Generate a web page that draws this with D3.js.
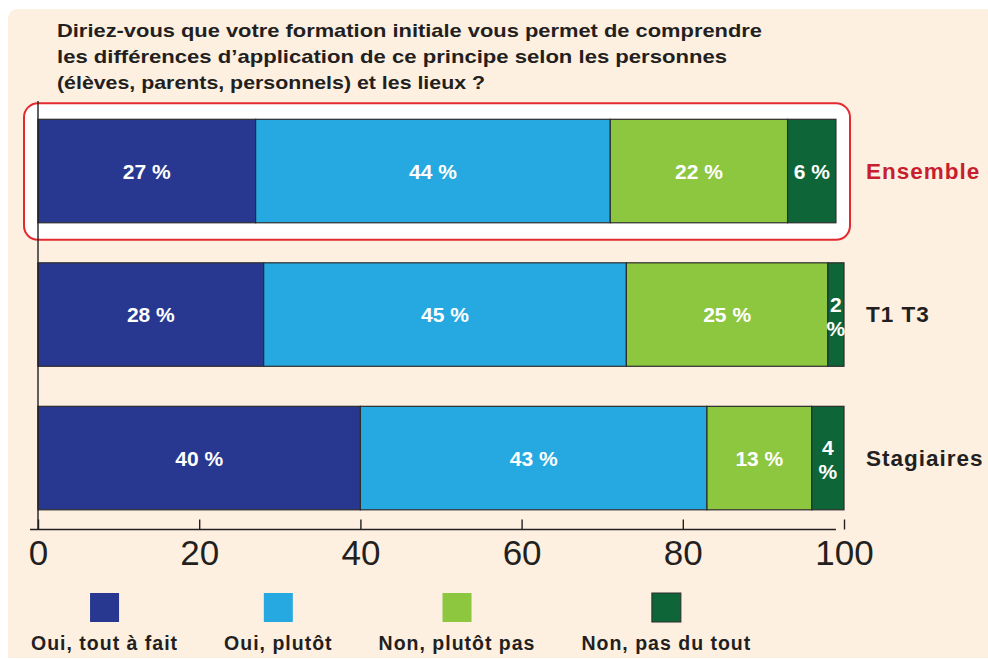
<!DOCTYPE html>
<html>
<head>
<meta charset="utf-8">
<script src="https://cdn.jsdelivr.net/npm/d3@7"></script>
<style>
  html, body { margin: 0; padding: 0; background: #ffffff; }
  svg { display: block; font-family: "Liberation Sans", Arial, sans-serif; }
</style>
</head>
<body>
<svg id="chart" width="988" height="660"></svg>
<script>
// ---- data ----
const titleLines = [
  "Diriez-vous que votre formation initiale vous permet de comprendre",
  "les différences d\u2019application de ce principe selon les personnes",
  "(élèves, parents, personnels) et les lieux ?"
];
const categories = ["Ensemble", "T1 T3", "Stagiaires"];
const seriesNames = ["Oui, tout à fait", "Oui, plutôt", "Non, plutôt pas", "Non, pas du tout"];
const ouiToutAFait = [27, 28, 40];
const ouiPlutot = [44, 45, 43];
const nonPlutotPas = [22, 25, 13];
const nonPasDuTout = [6, 2, 4];
const xTicks = [0, 20, 40, 60, 80, 100];
const highlighted = "Ensemble";

// ---- styles ----
const colors = ["#283891", "#25A9E0", "#8DC63F", "#0E6537"];
const ink = "#231f20";
const red = "#E42A30";
const redText = "#C71F2E";
const panel = "#FDF0E1";

const seriesValues = [ouiToutAFait, ouiPlutot, nonPlutotPas, nonPasDuTout];
const rows = categories.map((c, i) => {
  const r = { category: c };
  seriesNames.forEach((s, j) => r[s] = seriesValues[j][i]);
  return r;
});
const stacked = d3.stack().keys(seriesNames)(rows);

const svg = d3.select("#chart");

// panel background with rounded top-left corner
const px = 8, py = 9, pr = 11;
svg.append("path")
  .attr("d", `M${px},${py + pr} Q${px},${py} ${px + pr},${py} L990,${py} L990,658 L${px},658 Z`)
  .attr("fill", panel);

// scales
const x = d3.scaleLinear().domain([0, 100]).range([38, 844]);
const y = d3.scaleBand().domain(categories).range([119.3, 509.8]).paddingInner(0.279).paddingOuter(0);

// title
const titleWidths = [705, 670, 428];
svg.append("g").selectAll("text").data(titleLines).join("text")
  .attr("x", 57)
  .attr("y", (d, i) => 37 + i * 25.8)
  .attr("font-size", 18.5)
  .attr("font-weight", "bold")
  .attr("fill", ink)
  .attr("textLength", (d, i) => titleWidths[i])
  .attr("lengthAdjust", "spacingAndGlyphs")
  .text(d => d);

// highlight box
const hy = y(highlighted);
svg.append("rect")
  .attr("x", x(0) - 14)
  .attr("y", hy - 16)
  .attr("width", x(100) + 6 - (x(0) - 14))
  .attr("height", y.bandwidth() + 33)
  .attr("rx", 14).attr("ry", 14)
  .attr("fill", "#ffffff")
  .attr("stroke", red)
  .attr("stroke-width", 2);

// bars
const gBars = svg.append("g");
stacked.forEach((layer, j) => {
  gBars.append("g").selectAll("rect").data(layer).join("rect")
    .attr("x", d => x(d[0]))
    .attr("y", d => y(d.data.category))
    .attr("width", d => x(d[1]) - x(d[0]))
    .attr("height", y.bandwidth())
    .attr("fill", colors[j])
    .attr("stroke", "#2c2c2c")
    .attr("stroke-width", 1.2);
});

// value labels
const gLab = svg.append("g")
  .attr("fill", "#ffffff")
  .attr("font-weight", "bold")
  .attr("font-size", 21)
  .attr("text-anchor", "middle");
stacked.forEach((layer, j) => {
  layer.forEach(d => {
    const v = d[1] - d[0];
    const cx = (x(d[0]) + x(d[1])) / 2;
    const cy = y(d.data.category) + y.bandwidth() / 2;
    const w = x(d[1]) - x(d[0]);
    if (w < 40) {
      gLab.append("text").attr("x", cx).attr("y", cy - 3).text(v);
      gLab.append("text").attr("x", cx).attr("y", cy + 21).text("%");
    } else {
      gLab.append("text").attr("x", cx).attr("y", cy + 7.5).text(v + " %");
    }
  });
});

// category labels
svg.append("g").selectAll("text").data(categories).join("text")
  .attr("x", 866)
  .attr("y", d => y(d) + y.bandwidth() / 2 + 7.5)
  .attr("font-size", 22.5)
  .attr("font-weight", "bold")
  .attr("letter-spacing", 1)
  .attr("fill", d => d === highlighted ? redText : ink)
  .text(d => d);

// y axis line
svg.append("line")
  .attr("x1", x(0)).attr("x2", x(0))
  .attr("y1", 101).attr("y2", 529.5)
  .attr("stroke", ink).attr("stroke-width", 1.4);

// x axis
const axisY = 529.5;
const gx = svg.append("g").attr("transform", `translate(0,${axisY})`)
  .call(d3.axisBottom(x).tickValues(xTicks).tickSize(-10).tickFormat(d3.format("d")));
gx.select(".domain").remove();
gx.append("line")
  .attr("x1", x(0) - 8).attr("x2", x(99))
  .attr("y1", 0).attr("y2", 0)
  .attr("stroke", ink).attr("stroke-width", 1.4);
gx.selectAll(".tick line").attr("stroke", ink).attr("stroke-width", 1.4);
gx.selectAll(".tick text")
  .attr("y", 35.5).attr("dy", 0)
  .attr("fill", ink)
  .attr("font-size", 35)
  .attr("font-family", "'Liberation Sans', Arial, sans-serif");

// legend
const gLeg = svg.append("g");
let lx = 31;
const gap = 46;
seriesNames.forEach((s, j) => {
  const t = gLeg.append("text")
    .attr("x", lx)
    .attr("y", 650)
    .attr("font-size", 19.5)
    .attr("font-weight", "bold")
    .attr("letter-spacing", 1)
    .attr("fill", ink)
    .text(s);
  const w = t.node().getComputedTextLength();
  const cx = lx + w / 2;
  gLeg.append("rect")
    .attr("x", cx - 14.5).attr("y", 593)
    .attr("width", 29).attr("height", 29)
    .attr("fill", colors[j])
    .attr("stroke", j === 3 ? "#2c2c2c" : "none")
    .attr("stroke-width", 1);
  lx += w + gap;
});
</script>
</body>
</html>
